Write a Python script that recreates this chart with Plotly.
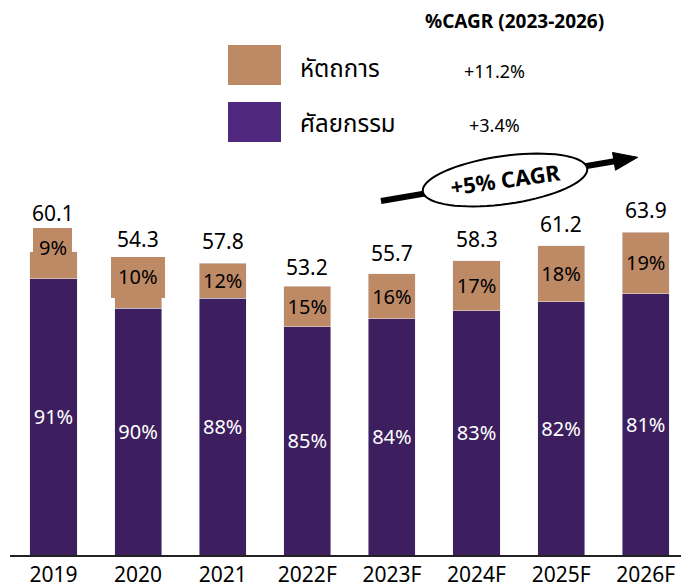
import math
import plotly.graph_objects as go

# ---- data ----
years = ["2019", "2020", "2021", "2022F", "2023F", "2024F", "2025F", "2026F"]
totals = [60.1, 54.3, 57.8, 53.2, 55.7, 58.3, 61.2, 63.9]
surgery_pct = [91, 90, 88, 85, 84, 83, 82, 81]      # ศัลยกรรม
procedure_pct = [9, 10, 12, 15, 16, 17, 18, 19]     # หัตถการ
legend_names = ["หัตถการ", "ศัลยกรรม"]
cagr_values = ["+11.2%", "+3.4%"]
cagr_title = "%CAGR (2023-2026)"
trend_label = "+5% CAGR"

surgery_vals = [t * p / 100 for t, p in zip(totals, surgery_pct)]
procedure_vals = [t * p / 100 for t, p in zip(totals, procedure_pct)]

# ---- style ----
PURPLE = "#3D1F5F"
PURPLE_LEG = "#50297F"
TAN = "#BE8A66"
FONT = "Noto Sans, Noto Sans Thai, DejaVu Sans, sans-serif"
total_lift = [23, 26, 6, 3, 5, 6, 6, 6]     # px lift of total labels above bars
boxed = {0: 247, 1: 276}                    # labels drawn in a filled box: pixel y

W, H = 681, 587
L, R, T, B = 10, 0, 0, 32
pw, ph = W - L - R, H - T - B


def px(x):
    return (x - L) / pw


def py(y):
    return (H - B - y) / ph


proc_text = [("" if i in boxed else f"{p}%") for i, p in enumerate(procedure_pct)]

fig = go.Figure()
fig.add_bar(x=years, y=surgery_vals, name=legend_names[1], marker_color=PURPLE,
            width=0.556, text=[f"{p}%" for p in surgery_pct], textposition="inside",
            insidetextanchor="middle", textangle=0, constraintext="none",
            textfont=dict(color="white", size=20, family=FONT), hoverinfo="skip")
fig.add_bar(x=years, y=procedure_vals, name=legend_names[0], marker_color=TAN,
            width=0.556, text=proc_text, textposition="inside",
            insidetextanchor="middle", textangle=0, constraintext="none",
            textfont=dict(color="black", size=20, family=FONT), hoverinfo="skip")

annotations = []
for i, t in enumerate(totals):
    annotations.append(dict(x=i, y=t, xref="x", yref="y", text=f"{t}", showarrow=False,
                            xanchor="center", yanchor="bottom", yshift=total_lift[i],
                            font=dict(size=21, color="black", family=FONT)))
for i, ypix in boxed.items():
    annotations.append(dict(x=i, y=py(ypix), xref="x", yref="paper",
                            text=f"{procedure_pct[i]}%", showarrow=False,
                            xanchor="center", yanchor="middle",
                            font=dict(size=20, color="black", family=FONT)))


def note(x, y, text, size, xanchor="center", angle=0):
    annotations.append(dict(x=px(x), y=py(y), xref="paper", yref="paper", text=text,
                            showarrow=False, xanchor=xanchor, yanchor="middle", textangle=angle,
                            font=dict(size=size, color="black", family=FONT)))


shapes = []
# label boxes (background of boxed labels)
box_px = {0: (33, 72, 228, 268), 1: (111, 165, 257, 298)}
for i, (x0, x1, y0, y1) in box_px.items():
    shapes.append(dict(type="rect", xref="paper", yref="paper", x0=px(x0), x1=px(x1),
                       y0=py(y1), y1=py(y0), fillcolor=TAN, line_width=0, layer="above"))

# legend-like block
shapes.append(dict(type="rect", xref="paper", yref="paper", x0=px(228), x1=px(281),
                   y0=py(85), y1=py(45), fillcolor=TAN, line_width=0, layer="above"))
shapes.append(dict(type="rect", xref="paper", yref="paper", x0=px(228), x1=px(281),
                   y0=py(142), y1=py(102), fillcolor=PURPLE_LEG, line_width=0, layer="above"))
note(514, 21, f"<b>{cagr_title}</b>", 19)
note(298, 67, legend_names[0], 24, xanchor="left")
note(298, 123, legend_names[1], 24, xanchor="left")
note(494, 71, cagr_values[0], 18)
note(494, 125, cagr_values[1], 18)

# trend arrow with ellipse
x0a, y0a, x1a, y1a = 381, 201, 616, 161
shapes.append(dict(type="line", xref="paper", yref="paper", x0=px(x0a), y0=py(y0a),
                   x1=px(x1a), y1=py(y1a), line=dict(color="black", width=6), layer="above"))
ang = math.atan2(y1a - y0a, x1a - x0a)
tip = (x1a + 22 * math.cos(ang), y1a + 22 * math.sin(ang))
nx, ny = -math.sin(ang), math.cos(ang)
p1 = (x1a - 2 * math.cos(ang) + 9 * nx, y1a - 2 * math.sin(ang) + 9 * ny)
p2 = (x1a - 2 * math.cos(ang) - 9 * nx, y1a - 2 * math.sin(ang) - 9 * ny)
tri = f"M {px(tip[0])},{py(tip[1])} L {px(p1[0])},{py(p1[1])} L {px(p2[0])},{py(p2[1])} Z"
shapes.append(dict(type="path", xref="paper", yref="paper", path=tri, fillcolor="black",
                   line=dict(color="black", width=1), layer="above"))
cx, cy, a, b, rot = 505, 180, 83, 24, math.radians(8)
pts = []
for k in range(73):
    t = 2 * math.pi * k / 72
    lx, ly = a * math.cos(t), b * math.sin(t)
    X = cx + lx * math.cos(rot) + ly * math.sin(rot)
    Y = cy - lx * math.sin(rot) + ly * math.cos(rot)
    pts.append(f"{px(X)},{py(Y)}")
ell = "M " + " L ".join(pts) + " Z"
shapes.append(dict(type="path", xref="paper", yref="paper", path=ell, fillcolor="white",
                   line=dict(color="black", width=2), layer="above"))
note(505, 179, f"<b>{trend_label}</b>", 22, angle=-8)

fig.update_layout(
    width=W, height=H, barmode="stack", showlegend=False,
    margin=dict(l=L, r=R, t=T, b=B),
    paper_bgcolor="white", plot_bgcolor="white",
    font=dict(family=FONT, color="black"),
    xaxis=dict(type="category", range=[-0.514, 7.417], showgrid=False, showline=True,
               linecolor="#222222", linewidth=1.5, ticks="",
               tickfont=dict(size=21, color="black", family=FONT)),
    yaxis=dict(range=[0, 555 / 5.05], visible=False, showgrid=False),
    shapes=shapes, annotations=annotations,
)

fig.write_html("out.html", config={"displayModeBar": False},
               post_script="document.body.style.margin='0';")
